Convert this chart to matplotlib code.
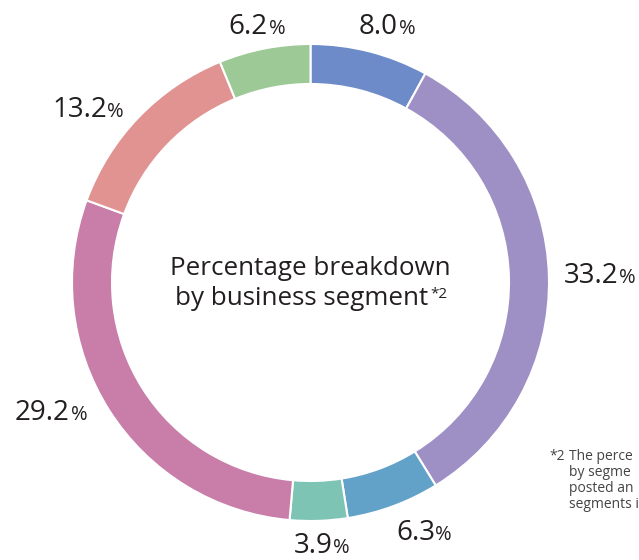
import matplotlib
matplotlib.use("Agg")
import matplotlib.pyplot as plt

# ---- data ----
segments = ["Seg A", "Seg B", "Seg C", "Seg D", "Seg E", "Seg F", "Seg G"]
values = [8.0, 33.2, 6.3, 3.9, 29.2, 13.2, 6.2]
colors = ["#6c8bc8", "#9e8fc5", "#62a2c9", "#7dc4b5", "#c87ea8", "#e09391", "#9dc997"]
center_lines = ["Percentage breakdown", "by business segment"]
footnote_lines = ["*2", "The perce", "by segme", "posted an", "segments i"]

# ---- layout (pixel coordinates measured from top-left) ----
W, H = 639, 560
cx, cy = 310.5, 282.5
r_out, ring_w = 238.5, 40
# anchor = right edge of number, baseline
label_anchor = [(398, 34), (618, 283), (435, 540), (333, 553), (70, 420), (107, 117), (268, 34)]

def Y(y):
    return H - y

plt.rcParams['font.family'] = ['Open Sans', 'DejaVu Sans']
fig = plt.figure(figsize=(W / 100, H / 100), dpi=100)
ax = fig.add_axes([0, 0, 1, 1])

ax.pie(values, colors=colors, startangle=90, counterclock=False,
       center=(cx, Y(cy)), radius=r_out, frame=True,
       wedgeprops=dict(width=ring_w, edgecolor='white', linewidth=1.5))
ax.set_xlim(0, W)
ax.set_ylim(0, H)
ax.set_aspect('equal')
ax.axis('off')

txt_color = "#231f20"
for v, (x, y) in zip(values, label_anchor):
    ax.text(x, Y(y), f"{v:.1f}", ha='right', va='baseline', fontsize=20, color=txt_color)
    ax.text(x + 0.5, Y(y), "%", ha='left', va='baseline', fontsize=14.5, color=txt_color)

ax.text(310, Y(275), center_lines[0], ha='center', va='baseline', fontsize=18.7, color=txt_color)
t2 = ax.text(302, Y(305), center_lines[1], ha='center', va='baseline', fontsize=18.7, color=txt_color)
ax.annotate("*2", xy=(1, 0.95), xycoords=t2, xytext=(1, 0), textcoords='offset points',
            ha='left', va='top', fontsize=11, color=txt_color)

fn_color = "#444444"
ax.text(549, Y(460), footnote_lines[0], ha='left', va='baseline', fontsize=10, color=fn_color)
for i, line in enumerate(footnote_lines[1:]):
    ax.text(569, Y(460 + i * 16), line, ha='left', va='baseline', fontsize=10,
            color=fn_color, clip_on=True)

fig.savefig("out.png", dpi=100)
